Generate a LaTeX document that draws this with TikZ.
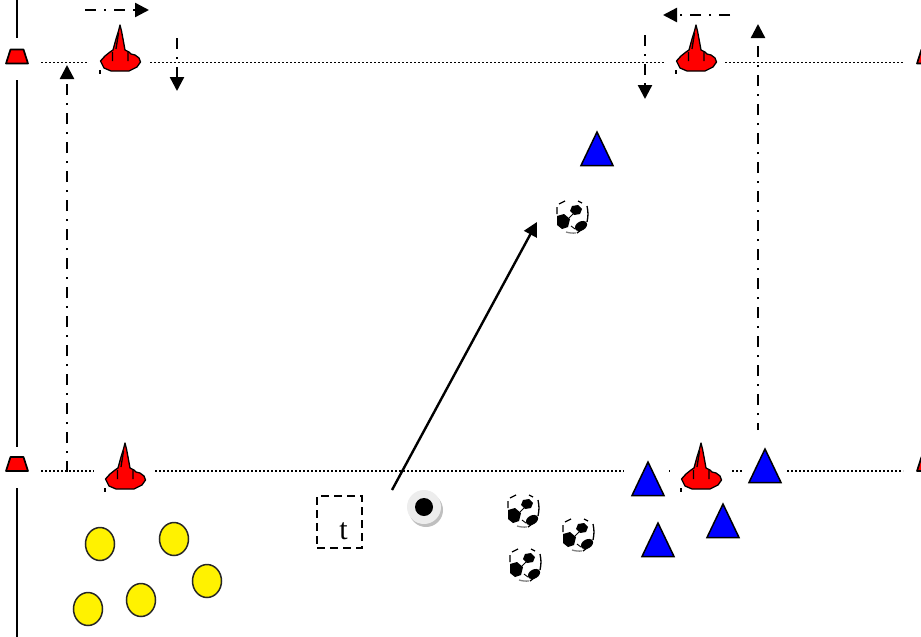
\documentclass[tikz,border=0pt]{standalone}
\usepackage{fontspec}
\setmainfont{Liberation Serif}
\usetikzlibrary{arrows.meta}
\tikzset{
  x=1pt,y=-1pt,
  fieldline/.style={line width=1.7pt,dash pattern=on 1.8pt off 2.2pt,black},
  touchline/.style={line width=2.5pt,black},
  runline/.style={line width=2.4pt,black,dash pattern=on 11pt off 8pt on 2.4pt off 7.6pt,-{Triangle[length=14pt,width=14pt]}},
  passline/.style={line width=2.4pt,black,-{Triangle[length=14pt,width=14pt]}},
  teebox/.style={draw,line width=2.4pt,dash pattern=on 8pt off 5pt,minimum width=45pt,minimum height=52pt,inner sep=0pt},
  redcone/.pic={
    \draw[line width=1.3pt,fill=red,line join=round] (0,0)--(1.5,6)--(3,14)--(5,25)--(9,27)--(11,29)--(15,30)--(19,33)--(20.5,37)--(17,42)--(9,46)--(-9,46)--(-16,43)--(-19.5,36)--(-15,31)--(-10,27)--(-7,25)--(-4,14)--(-1.5,6)--cycle;
    \draw[line width=1.3pt] (-7.5,27)--(-7.5,36) (8,27)--(8,36) (-1.5,8)--(-4,24);
    \fill (-21,44.5) rectangle (-19,48.5);
  },
  smallcone/.pic={
    \draw[line width=1.7pt,fill=red,line join=round] (-6.5,-14)--(6.5,-14)--(11,0)--(-11,0)--cycle;
  },
  bluetri/.pic={
    \draw[line width=1.5pt,fill=blue,line join=miter] (0,0)--(16,33.5)--(-16,33.5)--cycle;
  },
  yellowdisc/.pic={
    \draw[line width=1.5pt,fill=yellow,draw=black!85] (0,0) ellipse [x radius=14.5pt,y radius=16.5pt];
  },
  ball/.pic={
    \fill (-15,-1) -- (-8,-3) -- (-2,2) -- (-4,10) -- (-10,12) -- (-15,8) -- cycle;
    \fill (0,-11) -- (6,-12) -- (10,-8) -- (8,-3) -- (2,-2) -- (-2,-6) -- cycle;
    \fill[rotate around={30:(9,9)}] (9,9) ellipse [x radius=6.5pt,y radius=4.5pt];
    \draw[line width=1.3pt] (-13,-13)--(-7,-16) (6,-16)--(10,-14) (15,-11) to[bend left=12] (15,5) (-15,-10)--(-15,-3);
    \draw[line width=.9pt] (-3,1)--(1,-3) (-1,9)--(3,12);
    \draw[line width=1.3pt,black!50] (-6,15) to[bend right=10] (4,16);
    \draw[line width=1.3pt,black] (5,16)--(13,10);
  },
  puck/.pic={
    \fill[black!25] (2,3) circle (17pt);
    \fill[black!7] (0,0) circle (17pt);
    \fill[black] (0,0) circle (9pt);
  }
}
\begin{document}
\begin{tikzpicture}
\useasboundingbox (0,0) rectangle (921,637);
\clip (0,0) rectangle (921,637);

\coordinate (tl1) at (17,0);     \coordinate (tl2) at (17,38);
\coordinate (tl3) at (17,80);    \coordinate (tl4) at (17,447);
\coordinate (tl5) at (17,488);   \coordinate (tl6) at (17,637);
\draw[touchline] (tl1)--(tl2) (tl3)--(tl4) (tl5)--(tl6);

\coordinate (ta) at (41,62.5);  \coordinate (tb) at (87,62.5);
\coordinate (tc) at (150,62.5); \coordinate (td) at (664,62.5);
\coordinate (te) at (725,62.5); \coordinate (tf) at (903,62.5);
\draw[fieldline] (ta)--(tb) (tc)--(td) (te)--(tf);

\coordinate (ba) at (41,471);   \coordinate (bb) at (94,471);
\coordinate (bc) at (155,471);  \coordinate (bd) at (624,471);
\coordinate (be) at (732,471);  \coordinate (bf) at (743,471);
\coordinate (bg) at (787,471);  \coordinate (bh) at (903,471);
\draw[fieldline] (ba)--(bb) (bc)--(bd) (be)--(bf) (bg)--(bh);
\fill (669,470.2) rectangle (670,471.8);

\pic at (17,63.5) {smallcone};
\pic at (17,471) {smallcone};
\pic at (928,63.5) {smallcone};
\pic at (928,471) {smallcone};

\pic at (120,25) {redcone};
\pic at (696,25) {redcone};
\pic at (125,443) {redcone};
\pic at (701,443) {redcone};

\pic at (597,132) {bluetri};
\pic at (648,462) {bluetri};
\pic at (765,449) {bluetri};
\pic at (723,504) {bluetri};
\pic at (658,523) {bluetri};

\pic at (100,544) {yellowdisc};
\pic at (174,539) {yellowdisc};
\pic at (207,581) {yellowdisc};
\pic at (141,600) {yellowdisc};
\pic at (88,609) {yellowdisc};

\pic at (572,217) {ball};
\pic at (523,511) {ball};
\pic at (578,535) {ball};
\pic at (525,565) {ball};

\pic at (424,507) {puck};

\node[teebox,anchor=center] (tee) at (339.5,522) {};
\node[font=\fontsize{30}{30}\selectfont,anchor=base] (teelabel) at (343.5,539) {t};

\coordinate (p1) at (392,490);   \coordinate (p2) at (537,222);
\draw[passline] (p1)--(p2);

\coordinate (r1a) at (85,10);    \coordinate (r1b) at (149,10);
\coordinate (r2a) at (177,38);   \coordinate (r2b) at (177,91);
\coordinate (r3a) at (67,472);   \coordinate (r3b) at (67,65);
\coordinate (r4a) at (730,15);   \coordinate (r4b) at (663,15);
\coordinate (r5a) at (645,35);   \coordinate (r5b) at (645,99);
\coordinate (r6a) at (758,430);  \coordinate (r6b) at (758,24);
\draw[runline] (r1a)--(r1b);
\draw[runline] (r2a)--(r2b);
\draw[runline] (r3a)--(r3b);
\draw[runline] (r4a)--(r4b);
\draw[runline] (r5a)--(r5b);
\draw[runline,dash phase=4pt] (r6a)--(r6b);
\end{tikzpicture}
\end{document}
